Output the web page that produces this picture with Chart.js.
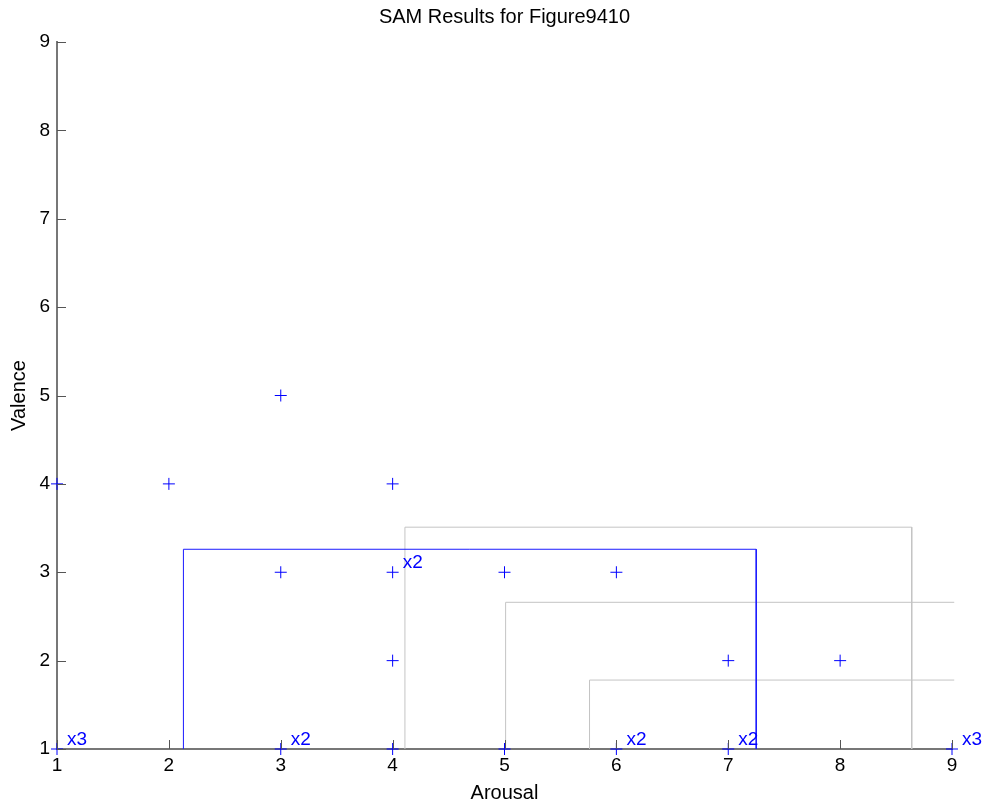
<!DOCTYPE html>
<html lang="en">
  <head>
    <meta charset="UTF-8" />
    <title>SAM Results for Figure9410</title>
    <script src="https://cdn.jsdelivr.net/npm/chart.js"></script>
    <style>
      body {
        margin: 0;
        background: #fff;
      }
      #wrap {
        width: 990px;
        height: 805px;
      }
    </style>
  </head>
  <body>
    <div id="wrap"><canvas id="chart"></canvas></div>

    <script>
      // single ratings (arousal, valence)
      const arousal = [1, 2, 3, 3, 4, 4, 4, 5, 6, 7, 8, 1, 3, 4, 5, 6, 7, 9];
      const valence = [4, 4, 5, 3, 4, 3, 2, 3, 3, 2, 2, 1, 1, 1, 1, 1, 1, 1];

      // repeated ratings
      const repeatX = [1, 3, 4, 6, 7, 9];
      const repeatY = [1, 1, 3, 1, 1, 1];
      const repeatLabel = ["x3", "x2", "x2", "x2", "x2", "x3"];

      // boxes
      const blueBoxX = [2.13, 2.13, 7.25, 7.25];
      const blueBoxY = [1, 3.26, 3.26, 1];
      const grayBox1X = [4.11, 4.11, 8.64, 8.64];
      const grayBox1Y = [1, 3.51, 3.51, 1];
      const grayBox2X = [5.01, 5.01, 9.02];
      const grayBox2Y = [1, 2.66, 2.66];
      const grayBox3X = [5.76, 5.76, 9.02];
      const grayBox3Y = [1, 1.78, 1.78];

      const tickValues = [1, 2, 3, 4, 5, 6, 7, 8, 9];

      const FONT = "'Liberation Sans', Arial, sans-serif";
      const zip = (xs, ys) => xs.map((x, i) => ({ x: x, y: ys[i] }));

      function boxLine(xs, ys, color) {
        return {
          type: "line",
          data: zip(xs, ys),
          borderColor: color,
          borderWidth: 1,
          pointRadius: 0,
          fill: false,
          tension: 0,
          clip: false,
        };
      }

      // inward tick marks + "xN" labels
      const extras = {
        id: "extras",
        afterDatasetsDraw(chart) {
          const c = chart.ctx;
          const xs = chart.scales.x;
          const ys = chart.scales.y;
          c.save();
          c.strokeStyle = "#555";
          c.lineWidth = 1;
          tickValues.forEach((v) => {
            const px = Math.round(xs.getPixelForValue(v)) + 0.5;
            c.beginPath();
            c.moveTo(px, ys.bottom);
            c.lineTo(px, ys.bottom - 9);
            c.stroke();
            const py = Math.round(ys.getPixelForValue(v)) + 0.5;
            c.beginPath();
            c.moveTo(xs.left, py);
            c.lineTo(xs.left + 9, py);
            c.stroke();
          });
          c.fillStyle = "#0000ff";
          c.font = "19px " + FONT;
          c.textAlign = "left";
          c.textBaseline = "alphabetic";
          repeatLabel.forEach((t, i) => {
            const px = xs.getPixelForValue(repeatX[i]);
            const py = ys.getPixelForValue(repeatY[i]);
            c.fillText(t, px + 10, py - 4);
          });
          c.restore();
        },
      };

      new Chart(document.getElementById("chart"), {
        type: "scatter",
        data: {
          datasets: [
            {
              data: zip(arousal, valence),
              pointStyle: "cross",
              pointRadius: 6,
              pointBorderWidth: 1,
              borderColor: "#0000ff",
              backgroundColor: "#0000ff",
              clip: false,
            },
            boxLine(blueBoxX, blueBoxY, "#1a1aff"),
            boxLine(grayBox1X, grayBox1Y, "#c4c4c4"),
            boxLine(grayBox2X, grayBox2Y, "#c4c4c4"),
            boxLine(grayBox3X, grayBox3Y, "#c4c4c4"),
          ],
        },
        options: {
          responsive: true,
          maintainAspectRatio: false,
          animation: false,
          events: [],
          layout: { padding: { left: 0, right: 38, top: 0, bottom: 0 } },
          plugins: {
            legend: { display: false },
            tooltip: { enabled: false },
            title: {
              display: true,
              text: "SAM Results for Figure9410",
              color: "#000",
              font: { family: FONT, size: 20, weight: "normal" },
              padding: { top: 5, bottom: 13 },
              fullSize: false,
            },
          },
          scales: {
            x: {
              type: "linear",
              min: 1,
              max: 9,
              afterFit: (s) => {
                s.height = 56;
              },
              afterBuildTicks: (s) => {
                s.ticks = tickValues.map((v) => ({ value: v }));
              },
              grid: { display: false, drawTicks: false },
              border: { display: true, color: "#777", width: 2 },
              ticks: {
                color: "#000",
                padding: 5,
                maxRotation: 0,
                font: { family: FONT, size: 19 },
              },
              title: {
                display: true,
                text: "Arousal",
                color: "#000",
                font: { family: FONT, size: 20 },
                padding: { top: 0, bottom: 0 },
              },
            },
            y: {
              type: "linear",
              min: 1,
              max: 9,
              afterFit: (s) => {
                s.width = 57;
              },
              afterBuildTicks: (s) => {
                s.ticks = tickValues.map((v) => ({ value: v }));
              },
              grid: { display: false, drawTicks: false },
              border: { display: true, color: "#777", width: 2 },
              ticks: {
                color: "#000",
                padding: 7,
                font: { family: FONT, size: 19 },
              },
              title: {
                display: true,
                text: "Valence",
                color: "#000",
                font: { family: FONT, size: 20 },
                padding: { top: 7, bottom: 0 },
              },
            },
          },
        },
        plugins: [extras],
      });
    </script>
  </body>
</html>
